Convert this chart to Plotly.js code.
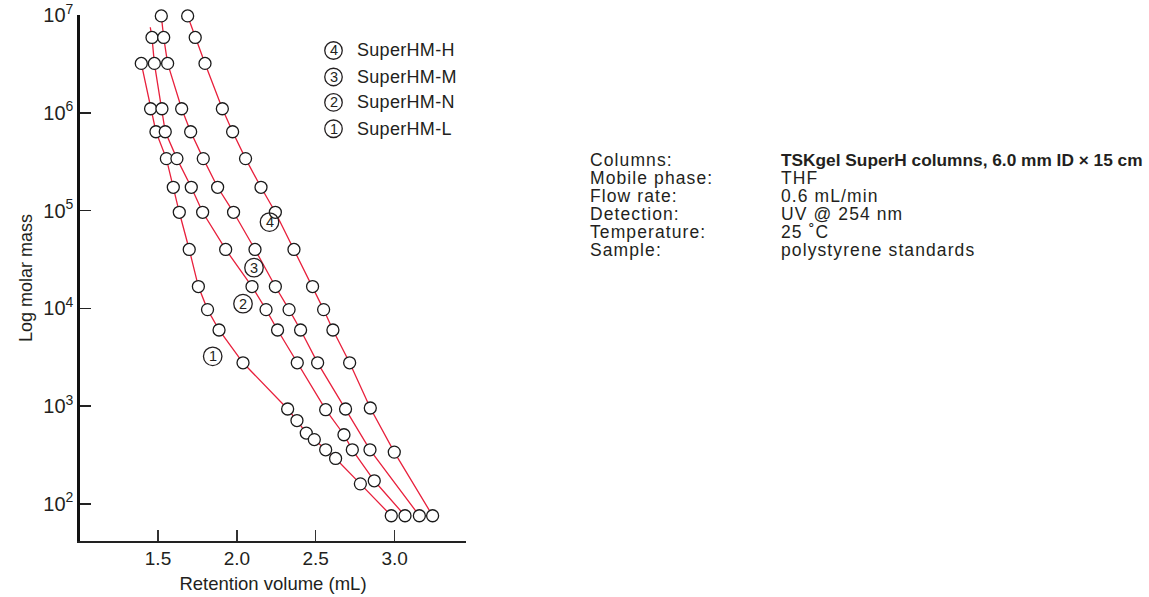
<!DOCTYPE html>
<html>
<head>
<meta charset="utf-8">
<script src="https://cdn.plot.ly/plotly-3.0.1.min.js"></script>
<style>
  html, body { margin: 0; padding: 0; background: #fff; }
  #chart { width: 1149px; height: 597px; }
</style>
</head>
<body>
<div id="chart"></div>
<script>
// ---------------- data ----------------
const seriesNames = ['SuperHM-H', 'SuperHM-M', 'SuperHM-N', 'SuperHM-L'];
const seriesNums  = ['4', '3', '2', '1'];

// SuperHM-H (curve 4)
const volH  = [1.688, 1.736, 1.798, 1.908, 1.973, 2.055, 2.153, 2.244, 2.362, 2.480, 2.550, 2.609, 2.715, 2.846, 2.998, 3.241];
const massH = [9.8e6, 5.9e6, 3.2e6, 1.1e6, 6.4e5, 3.4e5, 1.73e5, 9.6e4, 4.0e4, 1.67e4, 9.7e3, 6.0e3, 2.77e3, 955, 338, 75.5];

// SuperHM-M (curve 3)
const volM  = [1.521, 1.536, 1.561, 1.650, 1.707, 1.787, 1.878, 1.979, 2.115, 2.244, 2.331, 2.404, 2.512, 2.689, 2.844, 3.157];
const massM = [9.8e6, 5.9e6, 3.2e6, 1.1e6, 6.4e5, 3.4e5, 1.73e5, 9.6e4, 4.0e4, 1.67e4, 9.7e3, 6.0e3, 2.77e3, 933, 357, 75.5];

// SuperHM-N (curve 2) - first entry is the line start above the first standard (drawn without marker)
const volN  = [1.451, 1.462, 1.477, 1.525, 1.546, 1.620, 1.711, 1.783, 1.929, 2.096, 2.185, 2.258, 2.383, 2.563, 2.679, 2.732, 2.871, 3.066];
const massN = [7.5e6, 5.9e6, 3.2e6, 1.1e6, 6.4e5, 3.4e5, 1.73e5, 9.6e4, 4.0e4, 1.67e4, 9.7e3, 6.0e3, 2.77e3, 918, 509, 357, 172, 75.5];

// SuperHM-L (curve 1)
const volL  = [1.394, 1.453, 1.487, 1.553, 1.597, 1.635, 1.698, 1.756, 1.814, 1.887, 2.039, 2.322, 2.381, 2.440, 2.491, 2.563, 2.626, 2.783, 2.979];
const massL = [3.2e6, 1.1e6, 6.4e5, 3.4e5, 1.73e5, 9.6e4, 4.0e4, 1.67e4, 9.7e3, 6.0e3, 2.77e3, 933, 711, 529, 454, 357, 291, 160, 75.5];

const xTickVals = [1.5, 2.0, 2.5, 3.0];
const xTickText = ['1.5', '2.0', '2.5', '3.0'];
const yTickVals = [1e2, 1e3, 1e4, 1e5, 1e6, 1e7];
const yTickText = ['10<sup>2</sup>', '10<sup>3</sup>', '10<sup>4</sup>', '10<sup>5</sup>', '10<sup>6</sup>', '10<sup>7</sup>'];

const condLabels = ['Columns:', 'Mobile phase:', 'Flow rate:', 'Detection:', 'Temperature:', 'Sample:'];
const condValues = ['TSKgel SuperH columns, 6.0 mm ID × 15 cm', 'THF', '0.6 mL/min', 'UV @ 254 nm', '25 ˚C', 'polystyrene standards'];

// ---------------- layout geometry ----------------
const W = 1149, H = 597;
const M = { l: 80, r: 683, t: 14.5, b: 56.3 };
const PW = W - M.l - M.r, PH = H - M.t - M.b;
const px = x => (x - M.l) / PW;          // pixel -> paper x
const py = y => 1 - (y - M.t) / PH;      // pixel -> paper y

const RED = '#e8203c';
const TXT = '#231f20';
const SANS = '"Liberation Sans", Arial, sans-serif';

function curve(name, x, y, hideFirst) {
  return {
    type: 'scatter', mode: 'lines+markers', name: name,
    x: x, y: y, cliponaxis: false,
    line: { color: RED, width: 1.3 },
    marker: {
      symbol: 'circle', color: '#ffffff', opacity: 1,
      size: x.map((v, i) => (hideFirst && i === 0) ? 0 : 12),
      line: { color: '#1a1a1a', width: 1.3 }
    },
    hoverinfo: 'x+y'
  };
}

const traces = [
  curve(seriesNames[3], volL, massL, false),
  curve(seriesNames[2], volN, massN, true),
  curve(seriesNames[1], volM, massM, false),
  curve(seriesNames[0], volH, massH, false)
];

const shapes = [];
const annotations = [];

function circledNum(xp, yp, num, d, fs) {
  shapes.push({
    type: 'circle', xref: 'paper', yref: 'paper',
    xsizemode: 'pixel', ysizemode: 'pixel',
    xanchor: px(xp), yanchor: py(yp),
    x0: -d / 2, x1: d / 2, y0: -d / 2, y1: d / 2,
    line: { color: TXT, width: 1.3 }, fillcolor: 'rgba(255,255,255,0)'
  });
  annotations.push({
    xref: 'paper', yref: 'paper', x: px(xp), y: py(yp),
    xanchor: 'center', yanchor: 'middle', showarrow: false,
    text: num, font: { family: SANS, size: fs, color: TXT }
  });
}

// legend block
const legendY = [50, 76.5, 102, 128.3];
seriesNames.forEach((n, i) => {
  circledNum(333.5, legendY[i], seriesNums[i], 17.5, 14.5);
  annotations.push({
    xref: 'paper', yref: 'paper', x: px(355), y: py(legendY[i]),
    xanchor: 'left', yanchor: 'middle', showarrow: false,
    text: '<span style="letter-spacing:0.3px">' + n + '</span>',
    font: { family: SANS, size: 18, color: TXT }
  });
});

// inline curve labels
const inlinePos = [[269.5, 221.7], [254, 267.3], [243, 303.3], [212.7, 356]];
inlinePos.forEach((p, i) => circledNum(p[0], p[1], seriesNums[i], 18.5, 14.5));

// conditions text
condLabels.forEach((t, i) => {
  const yy = 160 + i * 17.9;
  annotations.push({
    xref: 'paper', yref: 'paper', x: px(588), y: py(yy),
    xanchor: 'left', yanchor: 'middle', showarrow: false,
    text: '<span style="letter-spacing:1.1px">' + t + '</span>',
    font: { family: SANS, size: 17.5, color: TXT }
  });
  const v = i === 0
    ? '<b>' + condValues[i] + '</b>'
    : '<span style="letter-spacing:1.1px">' + condValues[i] + '</span>';
  annotations.push({
    xref: 'paper', yref: 'paper', x: px(779), y: py(yy),
    xanchor: 'left', yanchor: 'middle', showarrow: false,
    text: v, font: { family: SANS, size: i === 0 ? 17.3 : 17.5, color: TXT }
  });
});

const layout = {
  width: W, height: H, autosize: false,
  margin: M,
  paper_bgcolor: '#ffffff', plot_bgcolor: '#ffffff',
  showlegend: false,
  font: { family: SANS, color: TXT },
  xaxis: {
    range: [1.0055, 3.4527],
    tickvals: xTickVals, ticktext: xTickText,
    ticks: 'inside', ticklen: 11, tickwidth: 1.3, tickcolor: '#333',
    showline: true, linecolor: '#222', linewidth: 1.6,
    showgrid: false, zeroline: false,
    tickfont: { family: SANS, size: 19, color: TXT },
    title: { text: 'Retention volume (mL)', standoff: 8, font: { family: SANS, size: 18.5, color: TXT } }
  },
  yaxis: {
    type: 'log', range: [1.6196, 7.0005],
    tickvals: yTickVals, ticktext: yTickText,
    ticks: 'inside', ticklen: 11, tickwidth: 1.5, tickcolor: '#222',
    showline: true, linecolor: '#111', linewidth: 2.6,
    showgrid: false, zeroline: false,
    tickfont: { family: SANS, size: 20, color: TXT },
    title: { text: 'Log molar mass', standoff: 6, font: { family: SANS, size: 18, color: TXT } }
  },
  shapes: shapes,
  annotations: annotations
};

Plotly.newPlot('chart', traces, layout, { displayModeBar: false, staticPlot: true });
</script>
</body>
</html>
